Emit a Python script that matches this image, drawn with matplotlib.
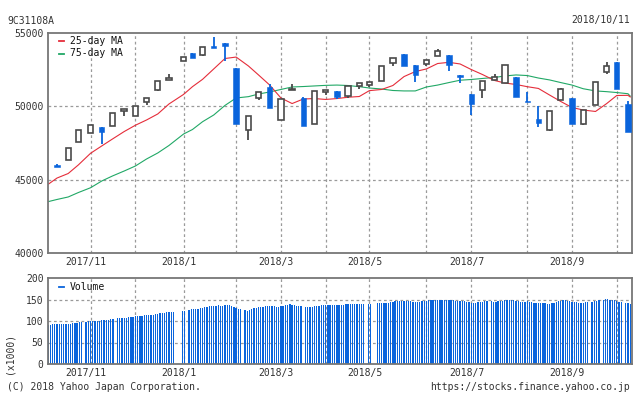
import numpy as np
import pandas as pd
import matplotlib
matplotlib.use("Agg")
import matplotlib.pyplot as plt
from matplotlib.patches import Rectangle
from matplotlib.lines import Line2D
from matplotlib.transforms import ScaledTranslation

# ---------------- data ----------------
start_date = "2017-10-12"
end_date = "2018-10-11"
holidays = ["2017-11-03", "2017-11-23", "2018-01-01", "2018-01-02", "2018-01-03",
            "2018-01-08", "2018-02-12", "2018-03-21", "2018-04-30", "2018-05-03",
            "2018-05-04", "2018-07-16", "2018-09-17", "2018-09-24", "2018-10-08"]

# weekly candles (week of 2017-10-16 ... week of 2018-10-08)
opens = [45990, 46320, 47550, 48160, 48570, 48640, 49660, 49320, 50320, 51110,
         51770, 53090, 53640, 53500, 54130, 54320, 52630, 48410, 50590, 51320,
         49050, 51090, 50570, 48780, 51000, 51050, 50730, 51370, 51430, 51750,
         52970, 53550, 52820, 52890, 53410, 53500, 52140, 50840, 51130, 51820,
         51610, 52000, 50380, 49140, 48410, 50450, 50570, 48820, 50110, 52360,
         53020, 50160]
closes = [45880, 47160, 48390, 48710, 48270, 49520, 49800, 50040, 50550, 51710,
          51910, 53340, 53270, 54030, 54000, 54130, 48800, 49340, 50980, 49910,
          50480, 51180, 48680, 51050, 51090, 50660, 51390, 51590, 51660, 52750,
          53270, 52770, 52160, 53140, 53750, 52840, 52020, 50160, 51730, 51980,
          52820, 50660, 50300, 48880, 49680, 51160, 48820, 49750, 51660, 52750,
          51200, 48270]
highs = [46050, 47160, 48390, 48710, 48600, 49520, 49800, 50040, 50550, 51710,
         52220, 53340, 53640, 54030, 54750, 54320, 52630, 49340, 50980, 51500,
         50480, 51520, 50640, 51050, 51090, 51050, 51390, 51590, 51660, 52750,
         53270, 53550, 52820, 53140, 53910, 53500, 52140, 50840, 51730, 52220,
         52820, 52000, 50960, 50020, 49680, 51270, 50570, 49750, 51660, 53020,
         53020, 50380]
lows = [45850, 46320, 47550, 48160, 47410, 48640, 49360, 49320, 50110, 51020,
        51770, 53090, 53270, 53420, 54000, 53070, 48800, 47720, 50430, 49910,
        49050, 51090, 48680, 48780, 50750, 50480, 50550, 51180, 51300, 51750,
        52770, 52770, 51680, 52750, 53410, 52410, 51610, 49430, 50590, 51820,
        51610, 50660, 50300, 48610, 48300, 50450, 48820, 48730, 50110, 52180,
        51200, 48270]

# moving averages sampled at: first day, each weekly candle, last day
ma25 = [44680, 45110, 45420, 46000, 46800, 47300, 47770, 48280, 48710, 49070,
        49480, 50160, 50810, 51340, 51840, 52550, 53260, 53360, 52750, 52140,
        51450, 50570, 50190, 50500, 50530, 50470, 50530, 50620, 50670, 51070,
        51150, 51420, 52030, 52370, 52550, 52920, 53000, 52890, 52510, 52170,
        51760, 51590, 51490, 51340, 51220, 50770, 50330, 49920, 49750, 49650,
        50190, 50740, 50750, 50640]
ma75 = [43500, 43650, 43820, 44120, 44450, 44910, 45250, 45590, 45930, 46410,
        46820, 47330, 48110, 48420, 48950, 49410, 50060, 50570, 50660, 50840,
        50980, 51150, 51320, 51350, 51390, 51430, 51450, 51420, 51340, 51250,
        51180, 51080, 51050, 51050, 51320, 51450, 51620, 51780, 51830, 51900,
        51970, 52070, 52140, 52100, 51930, 51800, 51620, 51450, 51200, 51050,
        51000, 50940, 50860, 50700]

# daily volume (x1000), grouped by week
volume_weeks = [
    [90, 91],
    [92, 92, 93, 93, 93], [93, 93, 94, 94, 95], [95, 96, 97, 97],
    [98, 99, 100, 100, 101], [101, 101, 102, 102, 102], [103, 104, 105, 106],
    [106, 107, 108, 108, 109], [109, 110, 111, 111, 112], [112, 113, 113, 114, 114],
    [115, 116, 117, 118, 118], [119, 120, 120, 120, 121], [123, 124],
    [126, 127, 127, 127], [129, 130, 131, 132, 133], [134, 135, 135, 136, 137],
    [136, 136, 137, 137, 137], [134, 132, 130, 129, 128], [125, 124, 125, 127],
    [130, 131, 132, 133, 133], [135, 135, 135, 135, 135], [132, 133, 134, 135, 137],
    [138, 139, 138, 137], [136, 135, 134, 133, 133], [132, 133, 134, 135, 135],
    [137, 137, 137, 137, 137], [137, 137, 137, 138, 138], [138, 139, 139, 139, 139],
    [139, 139, 139, 139, 139], [139, 140], [141, 141, 141, 142, 142],
    [143, 144, 145, 146, 146], [147, 147, 146, 146, 146], [146, 145, 144, 144, 144],
    [146, 147, 147, 148, 148], [149, 150, 150, 150, 150], [150, 150, 149, 148, 148],
    [146, 146, 146, 146, 146], [145, 144, 142, 141, 142], [144, 145, 145, 146, 147],
    [146, 145, 145, 146], [146, 147, 148, 149, 149], [149, 148, 147, 146, 145],
    [144, 145, 146, 145, 145], [141, 142, 142, 142, 141], [141, 140, 140, 141, 142],
    [145, 146, 147, 148, 148], [147, 146, 145, 144, 144], [142, 143, 143, 144, 145],
    [144, 146, 147, 148], [150, 152, 151, 150], [149, 148, 146, 145, 144],
    [142, 141, 139],
]

price_ticks = [40000, 45000, 50000, 55000]
volume_ticks = [0, 50, 100, 150, 200]

# ---------------- styling ----------------
BLUE = "#0a64dc"
GRAY_C = "#4a4a4a"
RED = "#e52d3a"
GREEN = "#21a866"
GRID = "#9a9a9a"
SPINE = "#767676"
TXT = "#333333"
FONT = "DejaVu Sans Mono"
FS = 7.0
plt.rcParams["font.family"] = FONT

# ---------------- calendar (weekday axis) ----------------
wd = pd.bdate_range(start_date, end_date)
hol = set(pd.to_datetime(holidays))
pos = np.arange(len(wd), dtype=float)
trade_mask = np.array([d not in hol for d in wd])
tdays = wd[trade_mask]
tpos = pos[trade_mask]
week_key = np.array([(d - pd.Timedelta(days=d.weekday())) for d in tdays])
weeks = list(dict.fromkeys(week_key))
week_pos = [tpos[week_key == w].mean() for w in weeks]
week_first = [tdays[week_key == w][0] for w in weeks]
candle_x = week_pos[1:]            # first (partial) week has no candle
candle_first = week_first[1:]

vol = [v for wk in volume_weeks for v in wk]
n = min(len(vol), len(tpos))

ma_x = [tpos[0]] + list(candle_x) + [tpos[-1]]

# ---------------- figure ----------------
W, H = 634, 394
fig = plt.figure(figsize=(W / 100, H / 100), dpi=100)
ax = fig.add_axes([48 / W, 1 - 253 / H, 584 / W, 220 / H])
axv = fig.add_axes([48 / W, 1 - 364 / H, 584 / W, 86 / H])

xmin, xmax = -0.02, 260.8
for a in (ax, axv):
    a.set_xlim(xmin, xmax)
    for s in a.spines.values():
        s.set_color(SPINE)
        s.set_linewidth(1.3)
    a.tick_params(length=0, labelsize=FS, colors=TXT, pad=3.2)

ax.set_ylim(price_ticks[0], price_ticks[-1])
axv.set_ylim(volume_ticks[0], volume_ticks[-1])

# gridlines: month starts (first candle whose first trading day is in a new month)
prev = week_first[0]
grid_x, label_x, label_txt = [], [], []
for x, d in zip(candle_x, candle_first):
    if d.month != prev.month:
        grid_x.append(x)
        if d.month % 2 == 1:
            label_x.append(x)
            label_txt.append(f"{d.year}/{d.month}")
    prev = d

gkw = dict(color=GRID, lw=0.9, dashes=(2.2, 2.2), zorder=0.5)
for a in (ax, axv):
    for gx in grid_x:
        a.axvline(gx, **gkw)
for yv in price_ticks[1:-1]:
    ax.axhline(yv, **gkw)
for yv in volume_ticks[1:-1]:
    axv.axhline(yv, **gkw)

# MAs
ax.plot(ma_x, ma75, color=GREEN, lw=0.8, zorder=2)
ax.plot(ma_x, ma25, color=RED, lw=0.8, zorder=2)

# candles
bw = 2.4
for x, o, c, h, l in zip(candle_x, opens, closes, highs, lows):
    if c >= o:
        ax.vlines(x, l, h, color=GRAY_C, lw=1.3, zorder=3)
        ax.add_patch(Rectangle((x - bw / 2, o), bw, max(c - o, 60), facecolor="white",
                               edgecolor=GRAY_C, lw=1.2, zorder=4))
    else:
        ax.vlines(x, l, h, color=BLUE, lw=1.3, zorder=3)
        ax.add_patch(Rectangle((x - bw / 2, c), bw, max(o - c, 80), facecolor=BLUE,
                               edgecolor=BLUE, lw=0.4, zorder=4))

# volume bars
axv.bar(tpos[:n], vol[:n], width=0.6, color=BLUE, linewidth=0, zorder=2)

# ticks
ax.set_yticks(price_ticks)
ax.set_yticklabels([str(t) for t in price_ticks])
axv.set_yticks(volume_ticks)
axv.set_yticklabels([str(t) for t in volume_ticks])
shift = ScaledTranslation(-4.7 / 100, 0, fig.dpi_scale_trans)
for a in (ax, axv):
    a.set_xticks(label_x)
    a.set_xticklabels(label_txt)
    for lab in a.get_xticklabels():
        lab.set_transform(lab.get_transform() + shift)

# legends
def legend_item(y_px, color, text):
    fig.add_artist(Line2D([59 / W, 64 / W], [1 - y_px / H] * 2, color=color, lw=1.3))
    fig.text(70 / W, 1 - y_px / H, text, fontsize=FS, color="#111111", va="center", ha="left")

legend_item(41, RED, "25-day MA")
legend_item(53.5, GREEN, "75-day MA")
legend_item(286.5, BLUE, "Volume")

# header / footer texts
fig.text(7 / W, 1 - 20.5 / H, "9C31108A", fontsize=FS, color=TXT, va="center", ha="left")
fig.text(630 / W, 1 - 20.5 / H, "2018/10/11", fontsize=FS, color=TXT, va="center", ha="right")
fig.text(9 / W, 1 - 353 / H, "(x1000)", fontsize=FS, color=TXT, va="center", ha="center",
         rotation=90)
fig.text(7 / W, 1 - 386.5 / H, "(C) 2018 Yahoo Japan Corporation.", fontsize=FS, color=TXT,
         va="center", ha="left")
fig.text(630 / W, 1 - 386.5 / H, "https://stocks.finance.yahoo.co.jp", fontsize=FS, color=TXT,
         va="center", ha="right")

fig.savefig("out.png", dpi=100, facecolor="white")
